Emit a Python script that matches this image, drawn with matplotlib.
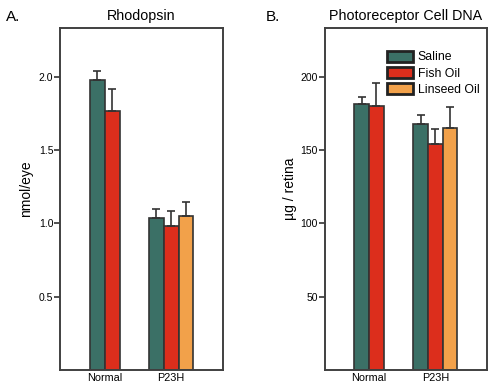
import matplotlib.pyplot as plt
import numpy as np

plt.rcParams["font.family"] = ["Liberation Sans", "DejaVu Sans"]

groups = ["Normal", "P23H"]
treatments = ["Saline", "Fish Oil", "Linseed Oil"]
colors = ["#3b7066", "#dc2e1c", "#f2a14a"]

# Rhodopsin (nmol/eye); None = not measured
rho_mean = {"Saline": [1.975, 1.036], "Fish Oil": [1.768, 0.984], "Linseed Oil": [None, 1.05]}
rho_err = {"Saline": [0.061, 0.064], "Fish Oil": [0.15, 0.098], "Linseed Oil": [None, 0.095]}

# Photoreceptor cell DNA (ug / retina)
dna_mean = {"Saline": [181.1, 167.9], "Fish Oil": [179.8, 154.1], "Linseed Oil": [None, 164.8]}
dna_err = {"Saline": [4.8, 5.9], "Fish Oil": [16.0, 10.0], "Linseed Oil": [None, 14.7]}

EDGE = "#333333"
W = 0.222


def draw_panel(ax, means, errs, ylim, yticks, ylabel, title):
    for gi, g in enumerate(groups):
        present = [t for t in treatments if means[t][gi] is not None]
        n = len(present)
        for k, t in enumerate(present):
            x = gi + (k - (n - 1) / 2) * W
            ci = treatments.index(t)
            ax.bar(x, means[t][gi], width=W, color=colors[ci], edgecolor=EDGE,
                   linewidth=1.2, zorder=2, label=t if gi == 1 else None)
            ax.errorbar(x, means[t][gi], yerr=[[0], [errs[t][gi]]], fmt="none",
                        ecolor=EDGE, elinewidth=1.2, capsize=3, capthick=1.2, zorder=3)
    ax.set_xlim(-0.67, 1.775)
    ax.set_ylim(*ylim)
    ax.set_yticks(yticks)
    ax.set_xticks(range(len(groups)))
    ax.set_xticklabels(groups, fontsize=7.8)
    ax.tick_params(axis="x", length=0, pad=2)
    ax.tick_params(axis="y", labelsize=7.5, direction="out", length=4, width=1.2,
                   color=EDGE, pad=1)
    for s in ax.spines.values():
        s.set_linewidth(1.4)
        s.set_color("#404040")
    ax.set_ylabel(ylabel, fontsize=10)
    ax.yaxis.set_label_coords(-0.17, 0.53)
    ax.set_title(title, fontsize=10.3, pad=6)


fig = plt.figure(figsize=(4.99, 3.87), dpi=100)
axA = fig.add_axes([60.3 / 499, 1 - 370 / 387, 162.4 / 499, 341.7 / 387])
axB = fig.add_axes([324.7 / 499, 1 - 370 / 387, 162 / 499, 341.7 / 387])

draw_panel(axA, rho_mean, rho_err, (0, 2.33), [0.5, 1.0, 1.5, 2.0],
           "nmol/eye", "Rhodopsin")
draw_panel(axB, dna_mean, dna_err, (0, 233), [50, 100, 150, 200],
           "µg / retina", "Photoreceptor Cell DNA")

fig.text(6 / 499, 1 - 20.7 / 387, "A.", fontsize=11, va="baseline")
fig.text(266 / 499, 1 - 20.7 / 387, "B.", fontsize=11, va="baseline")

axB.legend(loc="upper right", bbox_to_anchor=(1.0, 0.955), frameon=False, fontsize=8.8,
           handlelength=2.1, handleheight=0.95, handletextpad=0.4, labelspacing=0.3,
           borderaxespad=0.2)
for h in axB.get_legend().get_patches():
    h.set_linewidth(2)
    h.set_edgecolor("#222222")

fig.savefig("out.png", dpi=100)
